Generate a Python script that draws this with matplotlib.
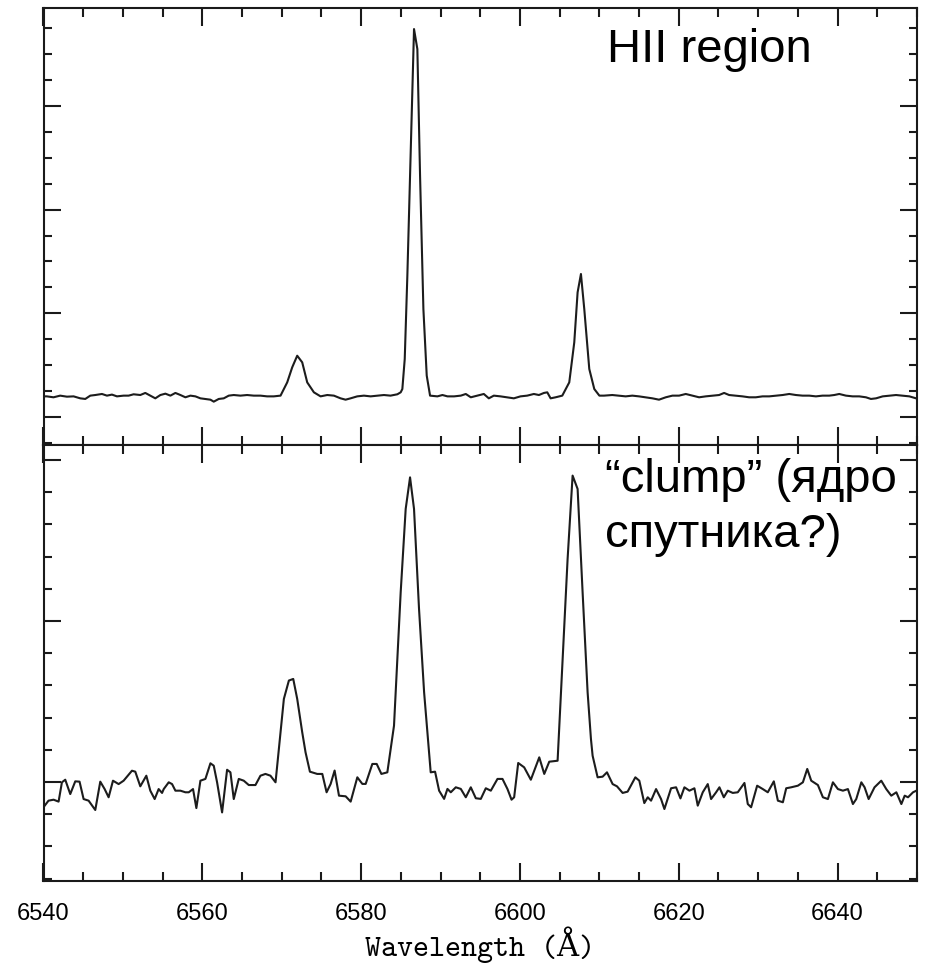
import matplotlib
matplotlib.use("Agg")
import matplotlib.pyplot as plt
from matplotlib.ticker import MultipleLocator, NullFormatter

# ---------------- data ----------------
top_wave = [6540.00, 6540.42, 6541.26, 6542.10, 6542.95, 6543.79, 6544.63, 6545.26, 6545.89, 6546.52,
            6547.36, 6547.99, 6548.62, 6549.25, 6550.09, 6550.72, 6551.35, 6552.19, 6552.82, 6553.45,
            6554.08, 6554.72, 6555.35, 6555.98, 6556.61, 6557.24, 6557.87, 6558.50, 6559.13, 6559.76,
            6560.39, 6561.02, 6561.44, 6562.07, 6562.70, 6563.33, 6563.96, 6564.80, 6565.64, 6566.48,
            6567.32, 6568.16, 6569.00, 6569.85, 6570.69, 6571.32, 6571.95, 6572.58, 6573.21, 6574.05,
            6574.89, 6575.73, 6576.57, 6577.41, 6578.04, 6578.67, 6579.51, 6580.35, 6581.19, 6582.03,
            6582.87, 6583.70, 6584.56, 6584.98, 6585.19, 6585.49, 6585.82, 6586.16, 6586.45, 6586.66,
            6587.08, 6587.42, 6587.84, 6588.26, 6588.68, 6589.60, 6590.24, 6590.87, 6591.71, 6592.55,
            6593.18, 6593.81, 6594.65, 6595.45, 6596.08, 6596.71, 6597.55, 6598.39, 6599.23, 6600.07,
            6600.91, 6601.75, 6602.39, 6603.02, 6603.44, 6603.86, 6604.49, 6605.33, 6606.21, 6606.84,
            6607.26, 6607.68, 6608.10, 6608.73, 6609.36, 6610.00, 6610.58, 6611.63, 6612.47, 6613.31,
            6614.15, 6614.99, 6615.83, 6616.68, 6617.51, 6618.36, 6619.20, 6620.04, 6620.88, 6621.72,
            6622.56, 6623.40, 6624.24, 6625.08, 6625.71, 6626.34, 6627.18, 6628.02, 6628.86, 6629.70,
            6630.55, 6631.39, 6632.23, 6633.07, 6633.91, 6634.75, 6635.59, 6636.43, 6637.27, 6638.11,
            6638.95, 6639.58, 6640.21, 6641.05, 6641.89, 6642.73, 6643.57, 6644.20, 6644.84, 6645.68,
            6646.52, 6647.36, 6648.20, 6649.04, 6649.88]
top_flux = [0.199, 0.199, 0.190, 0.206, 0.196, 0.199, 0.180, 0.174, 0.206, 0.212,
            0.222, 0.206, 0.216, 0.199, 0.206, 0.206, 0.219, 0.212, 0.232, 0.206,
            0.180, 0.212, 0.225, 0.206, 0.232, 0.212, 0.190, 0.206, 0.199, 0.180,
            0.174, 0.167, 0.148, 0.174, 0.180, 0.206, 0.212, 0.206, 0.212, 0.206,
            0.206, 0.199, 0.199, 0.206, 0.334, 0.479, 0.591, 0.527, 0.334, 0.238,
            0.199, 0.212, 0.206, 0.180, 0.167, 0.180, 0.199, 0.206, 0.199, 0.206,
            0.212, 0.206, 0.219, 0.238, 0.270, 0.559, 1.363, 2.327, 3.131, 3.741,
            3.548, 2.327, 1.041, 0.399, 0.206, 0.199, 0.212, 0.199, 0.199, 0.206,
            0.222, 0.190, 0.206, 0.222, 0.180, 0.206, 0.199, 0.190, 0.180, 0.199,
            0.206, 0.222, 0.212, 0.232, 0.238, 0.180, 0.190, 0.206, 0.334, 0.720,
            1.202, 1.379, 1.041, 0.463, 0.270, 0.206, 0.206, 0.212, 0.206, 0.199,
            0.206, 0.199, 0.190, 0.180, 0.167, 0.190, 0.206, 0.206, 0.222, 0.206,
            0.190, 0.199, 0.206, 0.212, 0.232, 0.212, 0.206, 0.199, 0.190, 0.190,
            0.199, 0.199, 0.206, 0.212, 0.222, 0.212, 0.206, 0.206, 0.199, 0.206,
            0.206, 0.212, 0.222, 0.206, 0.199, 0.199, 0.190, 0.174, 0.180, 0.199,
            0.206, 0.212, 0.206, 0.199, 0.180]

bot_wave = [6540.00, 6540.63, 6541.27, 6541.90, 6542.32, 6542.74, 6543.37, 6544.00, 6544.54, 6545.05,
            6545.68, 6546.52, 6547.15, 6547.70, 6548.20, 6548.75, 6549.46, 6550.09, 6551.14, 6551.56,
            6552.19, 6552.95, 6553.45, 6554.00, 6554.50, 6554.93, 6555.14, 6555.77, 6556.19, 6556.61,
            6557.24, 6557.87, 6558.29, 6558.83, 6559.25, 6559.76, 6560.39, 6561.02, 6561.44, 6561.86,
            6562.49, 6563.12, 6563.54, 6563.96, 6564.59, 6565.22, 6565.85, 6566.69, 6567.32, 6567.95,
            6568.58, 6569.22, 6570.27, 6570.90, 6571.45, 6571.95, 6572.58, 6573.00, 6573.55, 6574.47,
            6575.11, 6575.65, 6576.16, 6576.66, 6577.21, 6578.05, 6578.68, 6579.52, 6580.15, 6580.57,
            6581.41, 6581.96, 6582.55, 6583.30, 6584.14, 6584.98, 6585.61, 6586.16, 6586.66, 6587.29,
            6587.93, 6588.76, 6589.31, 6589.82, 6590.45, 6590.87, 6591.29, 6591.92, 6592.55, 6593.18,
            6593.81, 6594.44, 6595.07, 6595.70, 6596.33, 6597.17, 6597.80, 6598.43, 6598.94, 6599.27,
            6599.78, 6600.53, 6601.37, 6602.43, 6603.06, 6603.69, 6604.74, 6605.37, 6606.00, 6606.63,
            6607.26, 6607.89, 6608.52, 6608.94, 6609.15, 6609.78, 6610.41, 6610.96, 6611.67, 6612.22,
            6612.93, 6613.56, 6614.53, 6615.03, 6615.66, 6616.09, 6616.51, 6617.14, 6617.77, 6618.19,
            6619.03, 6619.66, 6620.21, 6620.71, 6621.34, 6621.97, 6622.39, 6623.02, 6623.65, 6624.07,
            6624.70, 6625.12, 6625.67, 6626.17, 6626.80, 6627.43, 6628.27, 6628.69, 6629.11, 6629.87,
            6630.58, 6631.21, 6631.97, 6632.48, 6633.11, 6633.53, 6634.16, 6635.00, 6635.63, 6636.18,
            6636.68, 6637.52, 6638.15, 6638.78, 6639.41, 6640.04, 6640.67, 6641.30, 6641.93, 6642.35,
            6642.99, 6643.40, 6643.91, 6644.65, 6645.50, 6646.13, 6646.76, 6647.40, 6648.03, 6648.45,
            6648.87, 6649.50, 6649.92]
bot_flux = [-0.157, -0.116, -0.110, -0.122, -0.002, 0.014, -0.075, 0.004, 0.002, -0.106,
            -0.116, -0.174, 0.002, -0.044, -0.095, 0.008, -0.013, 0.008, 0.070, 0.064,
            -0.027, 0.039, -0.054, -0.106, -0.044, -0.068, -0.044, -0.002, -0.013, -0.054,
            -0.054, -0.064, -0.064, -0.044, -0.162, 0.008, 0.019, 0.116, 0.101, -0.002,
            -0.189, 0.076, 0.060, -0.106, 0.019, 0.008, -0.019, -0.019, 0.039, 0.050,
            0.039, -0.002, 0.516, 0.630, 0.640, 0.516, 0.309, 0.184, 0.064, 0.050,
            0.050, -0.064, -0.012, 0.071, -0.085, -0.089, -0.122, 0.029, -0.012, -0.012,
            0.112, 0.112, 0.050, 0.060, 0.350, 1.178, 1.696, 1.892, 1.696, 1.075,
            0.557, 0.060, 0.064, -0.054, -0.105, -0.043, -0.064, -0.033, -0.043, -0.095,
            -0.033, -0.101, -0.105, -0.039, -0.054, 0.019, 0.019, -0.044, -0.110, -0.095,
            0.118, 0.091, 0.014, 0.153, 0.050, 0.126, 0.132, 0.764, 1.385, 1.903,
            1.820, 1.178, 0.557, 0.267, 0.163, 0.029, 0.033, 0.060, -0.013, -0.027,
            -0.068, -0.060, 0.029, 0.008, -0.131, -0.095, -0.116, -0.044, -0.106, -0.168,
            -0.039, -0.033, -0.102, -0.033, -0.054, -0.039, -0.147, -0.064, -0.013, -0.106,
            -0.064, -0.033, -0.095, -0.054, -0.068, -0.064, -0.006, -0.137, -0.157, -0.023,
            -0.044, -0.064, 0.004, -0.116, -0.126, -0.039, -0.033, -0.023, -0.002, 0.081,
            0.008, -0.019, -0.095, -0.106, -0.002, -0.044, -0.054, -0.044, -0.137, -0.106,
            -0.002, -0.033, -0.106, -0.033, 0.008, -0.044, -0.085, -0.064, -0.137, -0.085,
            -0.095, -0.064, -0.054]

x_ticks_major = [6540, 6560, 6580, 6600, 6620, 6640]
x_tick_labels = ["6540", "6560", "6580", "6600", "6620", "6640"]
top_label = "HII region"
bot_label_1 = "\u201cclump\u201d (ядро"
bot_label_2 = "спутника?)"
x_label = "Wavelength (Å)"

# ---------------- figure ----------------
W, H = 927, 970
fig = plt.figure(figsize=(W / 100, H / 100), dpi=100)

left, right = 43.5 / W, 917 / W
y_top, y_mid, y_bot = 9 / H, 446 / H, 882 / H
ax1 = fig.add_axes([left, 1 - y_mid, right - left, y_mid - y_top])
ax2 = fig.add_axes([left, 1 - y_bot, right - left, y_bot - y_mid])

line_kw = dict(color="#1c1c1c", lw=1.5, solid_joinstyle="round")
ax1.plot(top_wave, top_flux, **line_kw)
ax2.plot(bot_wave, bot_flux, **line_kw)

ax1.set_ylim(-0.27, 3.944)
ax2.set_ylim(-0.615, 2.093)

for ax, ymaj, ymin in ((ax1, 1.0, 0.25), (ax2, 1.0, 0.2)):
    ax.set_xlim(6540, 6650)
    ax.set_xticks(x_ticks_major)
    ax.xaxis.set_minor_locator(MultipleLocator(5))
    ax.yaxis.set_major_locator(MultipleLocator(ymaj))
    ax.yaxis.set_minor_locator(MultipleLocator(ymin))
    ax.yaxis.set_major_formatter(NullFormatter())
    for s in ax.spines.values():
        s.set_linewidth(1.5)
        s.set_color("#1a1a1a")
    ax.tick_params(which="both", direction="in", top=True, right=True,
                   width=1.5, color="#1a1a1a")
    ax.tick_params(which="major", axis="x", length=13)
    ax.tick_params(which="minor", axis="x", length=6.5)
    ax.tick_params(which="major", axis="y", length=12)
    ax.tick_params(which="minor", axis="y", length=6)

ax1.set_xticklabels([])
ax2.set_xticklabels(x_tick_labels, fontsize=17, family="Liberation Sans")
ax2.tick_params(axis="x", which="major", pad=15)

fig.text(607 / W, 1 - 62 / H, top_label, fontsize=34, family="Liberation Sans",
         va="baseline", ha="left")
fig.text(605 / W, 1 - 492 / H, bot_label_1, fontsize=34, family="Liberation Sans",
         va="baseline", ha="left")
fig.text(605 / W, 1 - 547 / H, bot_label_2, fontsize=34, family="Liberation Sans",
         va="baseline", ha="left")

fig.text(480 / W, 1 - 956 / H, x_label, fontsize=22, family=["cmtt10", "DejaVu Serif"],
         va="baseline", ha="center")

fig.savefig("out.png", dpi=100, facecolor="white")
